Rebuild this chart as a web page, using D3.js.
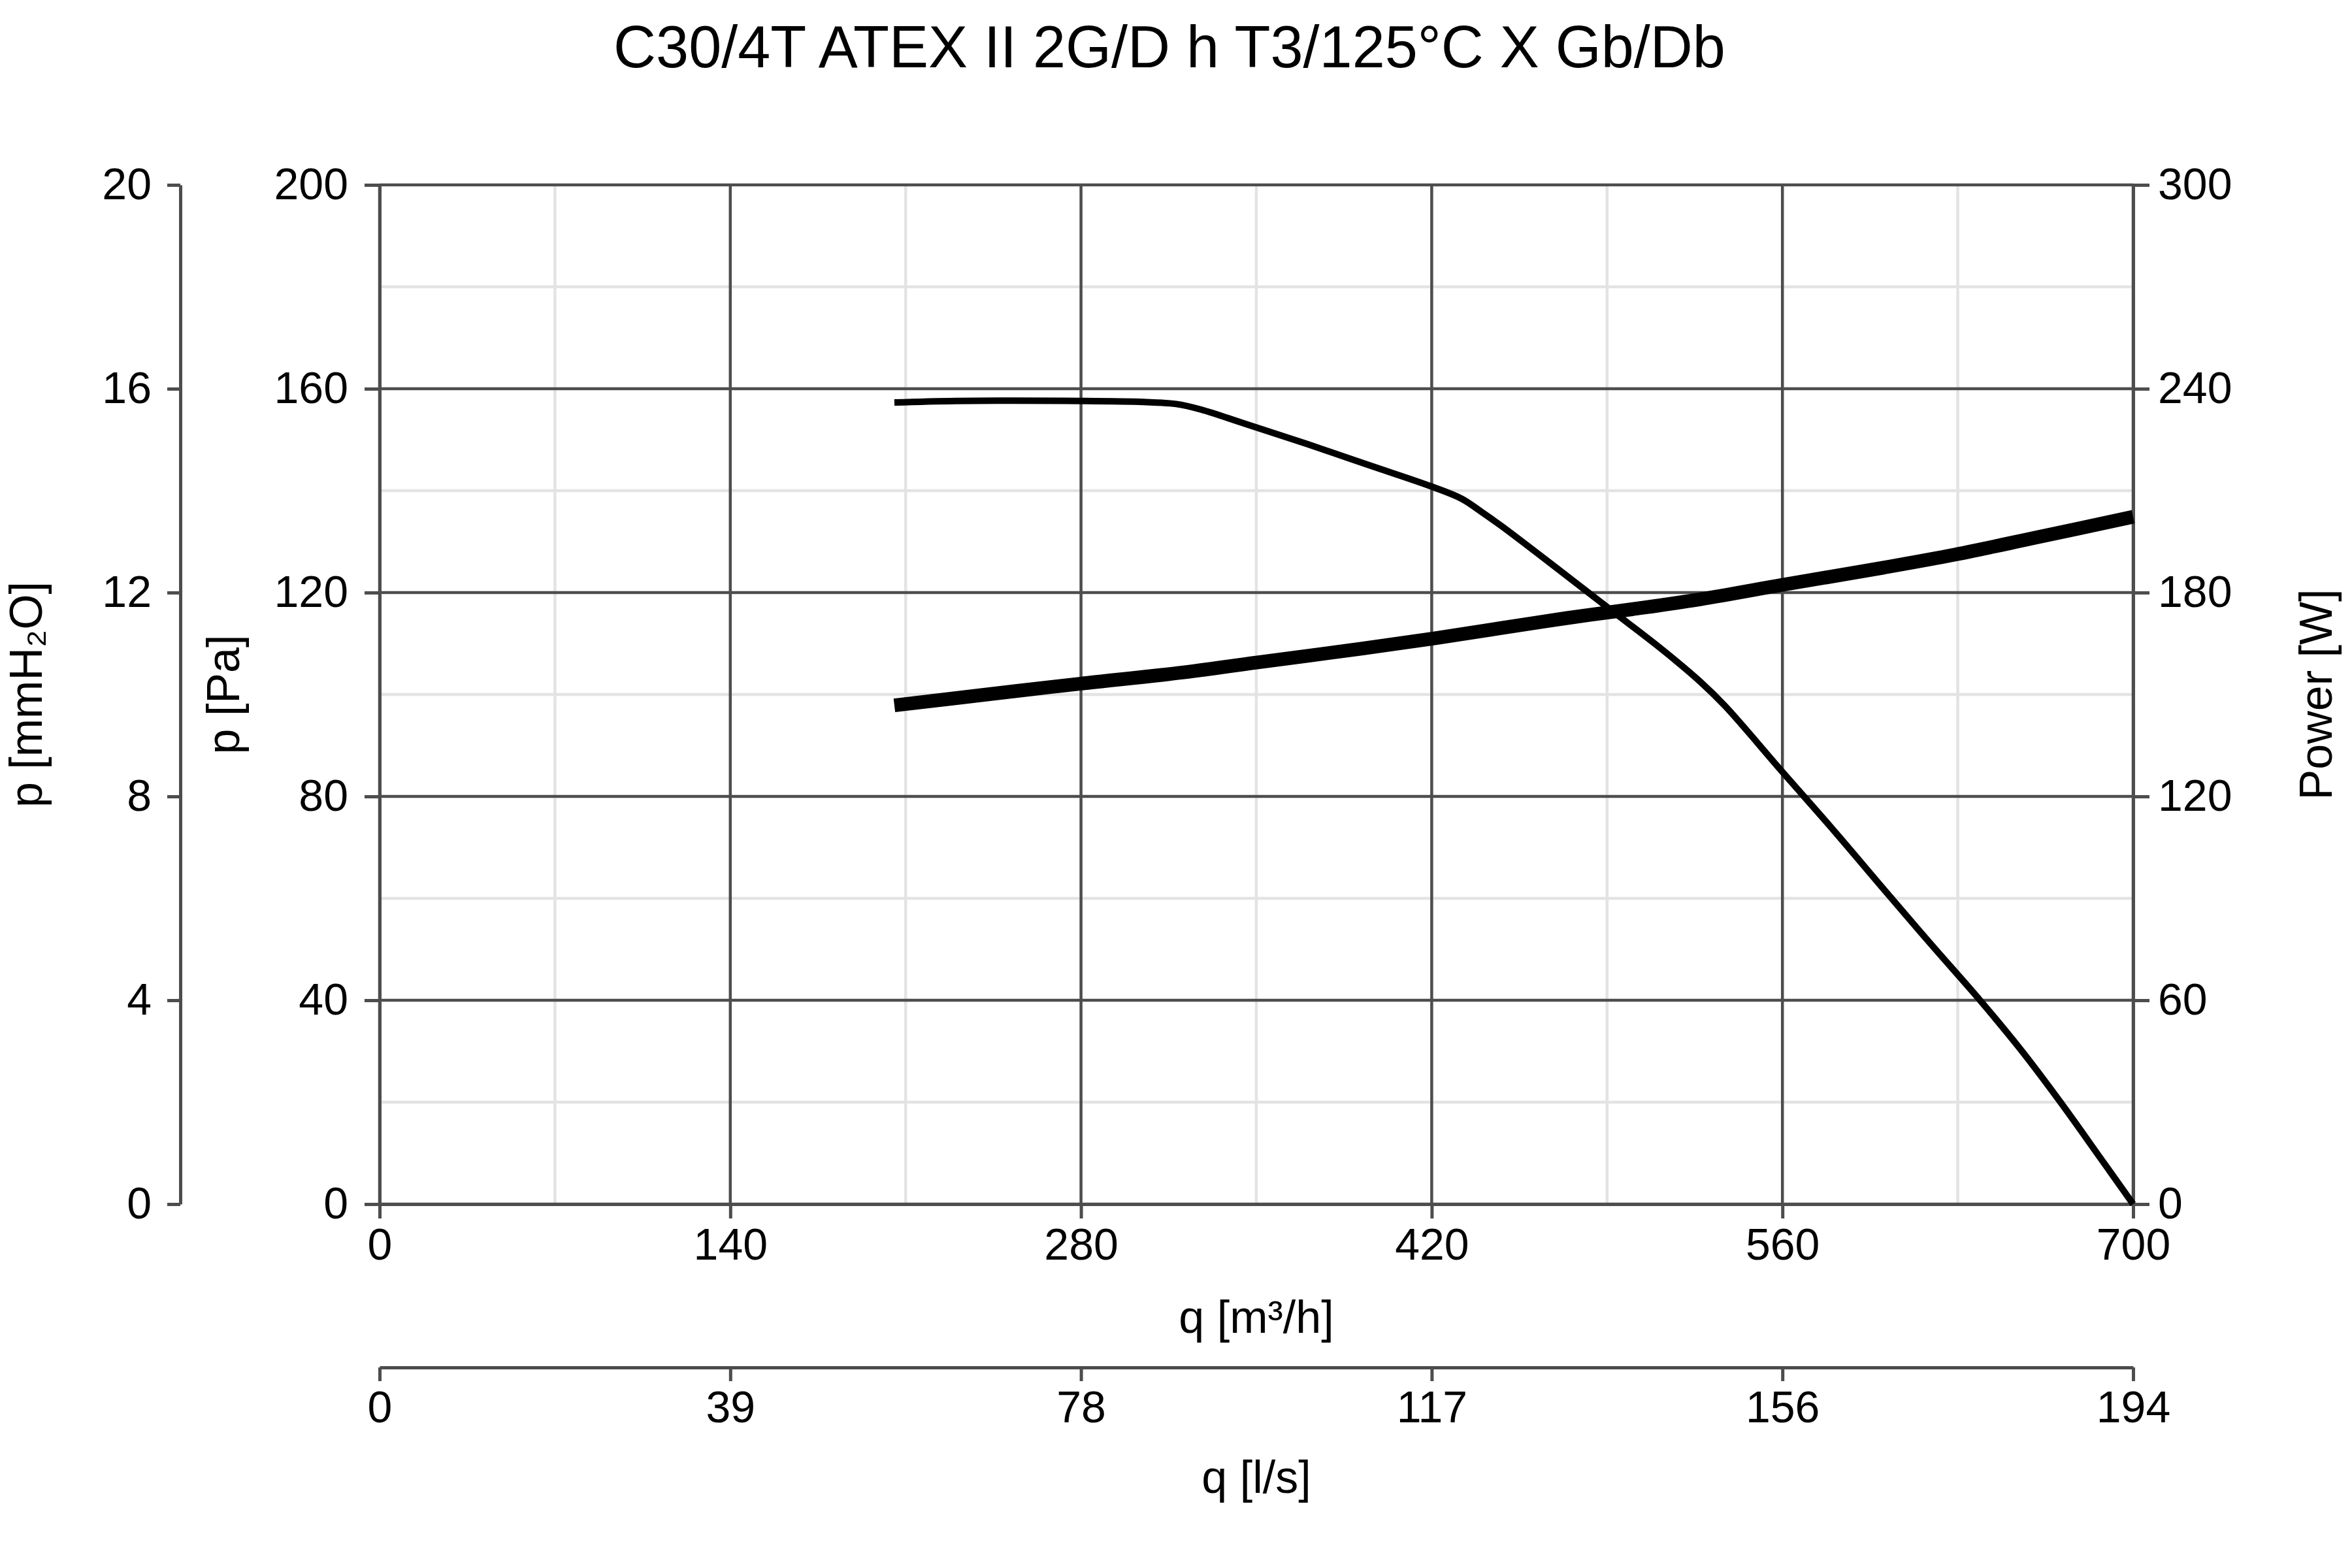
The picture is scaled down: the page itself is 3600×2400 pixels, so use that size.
<!DOCTYPE html>
<html>
<head>
<meta charset="utf-8">
<script src="https://cdn.jsdelivr.net/npm/d3@7"></script>
<style>
  html, body { margin: 0; padding: 0; background: #fff; }
  svg { display: block; font-family: "Liberation Sans", Arial, sans-serif; }
</style>
</head>
<body>
<svg id="chart" width="3600" height="2400"></svg>
<script>
// ---------- data ----------
const chartTitle = "C30/4T ATEX II 2G/D h T3/125°C X Gb/Db";
const qTicks = [0, 140, 280, 420, 560, 700];            // m³/h
const qMinor = [70, 210, 350, 490, 630];
const lsLabels = ["0", "39", "78", "117", "156", "194"];  // l/s
const paTicks = [0, 40, 80, 120, 160, 200];              // Pa
const paMinor = [20, 60, 100, 140, 180];
const mmLabels = ["0", "4", "8", "12", "16", "20"];       // mmH2O
const wTicks = [0, 60, 120, 180, 240, 300];               // W

const qPressure = [205.5, 230, 280, 305, 318, 328, 345, 370, 395, 420, 432, 440, 448, 472, 492, 510, 527, 537, 560, 580, 602, 620, 638, 655, 671, 687, 700];
const pPressure = [157.3, 157.6, 157.6, 157.4, 157.0, 155.9, 153.2, 149.2, 145.0, 140.8, 138.4, 135.8, 133.0, 124.0, 116.4, 109.6, 102.6, 97.8, 84.8, 73.6, 60.9, 50.6, 40.5, 30.4, 20.0, 9.0, 0];

const qPower = [205.5, 254, 280, 321, 350, 387, 421, 448, 474, 500, 527, 561, 600, 629, 660, 700];
const wPower = [146.8, 151.0, 153.2, 156.5, 159.4, 163.0, 166.5, 169.6, 172.5, 175.1, 178.0, 182.4, 187.3, 191.2, 196.0, 202.3];

// ---------- layout ----------
const L = 581, R = 3265, T = 283, B = 1843;
const svg = d3.select("#chart");
svg.append("rect").attr("width", 3600).attr("height", 2400).attr("fill", "#fff");

const x = d3.scaleLinear().domain([0, 700]).range([L, R]);
const y = d3.scaleLinear().domain([0, 200]).range([B, T]);
const yW = d3.scaleLinear().domain([0, 300]).range([B, T]);

const dark = "#4d4d4d", light = "#e3e3e3";
const gridW = 4.5, axisW = 5;
const tickFont = 68, labelFont = 70;

// minor grid
const g = svg.append("g");
g.selectAll(".mv").data(qMinor).join("line")
  .attr("x1", d => x(d)).attr("x2", d => x(d)).attr("y1", T).attr("y2", B)
  .attr("stroke", light).attr("stroke-width", gridW);
g.selectAll(".mh").data(paMinor).join("line")
  .attr("x1", L).attr("x2", R).attr("y1", d => y(d)).attr("y2", d => y(d))
  .attr("stroke", light).attr("stroke-width", gridW);
// major grid
g.selectAll(".Mv").data(qTicks).join("line")
  .attr("x1", d => x(d)).attr("x2", d => x(d)).attr("y1", T - 2).attr("y2", B)
  .attr("stroke", dark).attr("stroke-width", gridW);
g.selectAll(".Mh").data(paTicks).join("line")
  .attr("x1", L).attr("x2", R).attr("y1", d => y(d)).attr("y2", d => y(d))
  .attr("stroke", dark).attr("stroke-width", gridW);

function styleAxis(sel) {
  sel.selectAll("path.domain").attr("stroke", dark).attr("stroke-width", axisW);
  sel.selectAll(".tick line").attr("stroke", dark).attr("stroke-width", axisW);
  sel.selectAll(".tick text").attr("fill", "#000").style("font-size", tickFont + "px")
    .style("font-family", '"Liberation Sans", Arial, sans-serif');
}

// Pa axis (left)
svg.append("g").attr("transform", `translate(${L},0)`)
  .call(d3.axisLeft(y).tickValues(paTicks).tickSize(23).tickSizeOuter(0).tickPadding(25))
  .call(styleAxis);

// mmH2O axis (far left)
svg.append("g").attr("transform", `translate(276,0)`)
  .call(d3.axisLeft(y).tickValues(paTicks).tickFormat((d, i) => mmLabels[i]).tickSize(20).tickSizeOuter(0).tickPadding(24))
  .call(styleAxis);

// Power axis (right)
svg.append("g").attr("transform", `translate(${R},0)`)
  .call(d3.axisRight(yW).tickValues(wTicks).tickSize(25).tickSizeOuter(0).tickPadding(13))
  .call(styleAxis);

// q m³/h axis (bottom)
svg.append("g").attr("transform", `translate(0,${B})`)
  .call(d3.axisBottom(x).tickValues(qTicks).tickSize(22).tickSizeOuter(0).tickPadding(15))
  .call(styleAxis);

// q l/s axis (lower)
svg.append("g").attr("transform", `translate(0,2093)`)
  .call(d3.axisBottom(x).tickValues(qTicks).tickFormat((d, i) => lsLabels[i]).tickSize(21).tickSizeOuter(0).tickPadding(15))
  .call(styleAxis);

// curves
const pLine = d3.line().x(d => x(d[0])).y(d => y(d[1])).curve(d3.curveCatmullRom.alpha(0.5));
const wLine = d3.line().x(d => x(d[0])).y(d => yW(d[1])).curve(d3.curveCatmullRom.alpha(0.5));

svg.append("path").datum(qPower.map((q, i) => [q, wPower[i]]))
  .attr("d", wLine).attr("fill", "none").attr("stroke", "#000")
  .attr("stroke-width", 21).attr("stroke-linejoin", "round").attr("stroke-linecap", "butt");

svg.append("path").datum(qPressure.map((q, i) => [q, pPressure[i]]))
  .attr("d", pLine).attr("fill", "none").attr("stroke", "#000")
  .attr("stroke-width", 10).attr("stroke-linejoin", "round").attr("stroke-linecap", "butt");

// titles
const txt = (s, xx, yy, size, rot) => {
  const t = svg.append("text").attr("fill", "#000").style("font-size", size + "px")
    .attr("text-anchor", "middle").text(s);
  if (rot) t.attr("transform", `translate(${xx},${yy}) rotate(-90)`);
  else t.attr("x", xx).attr("y", yy);
  return t;
};
txt(chartTitle, 1790, 103, 90, false);
txt("q [m³/h]", (L + R) / 2, 2040, labelFont, false);
txt("q [l/s]", (L + R) / 2, 2285, labelFont, false);
txt("p [mmH₂O]", 64, (T + B) / 2, labelFont, true);
txt("p [Pa]", 366, (T + B) / 2, labelFont, true);
txt("Power [W]", 3569, (T + B) / 2, labelFont, true);
</script>
</body>
</html>
